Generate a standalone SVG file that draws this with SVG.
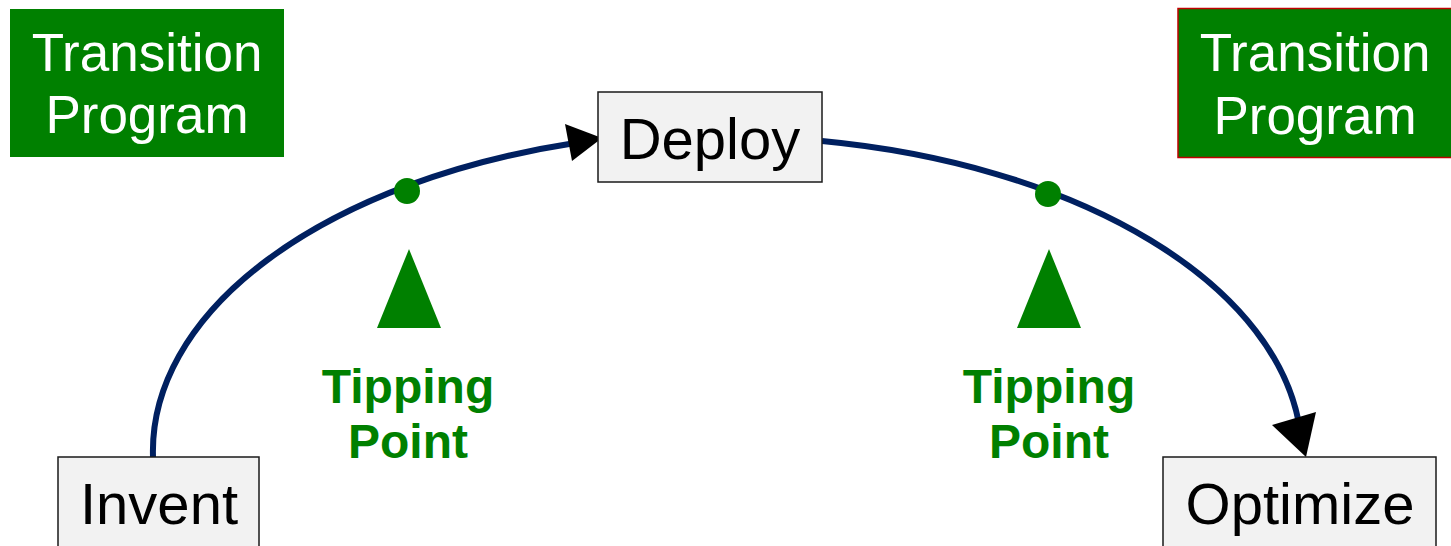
<svg xmlns="http://www.w3.org/2000/svg" width="1451" height="546" viewBox="0 0 1451 546">
<style>
.prog{fill:#008000}
.ptxt{font-family:"Liberation Sans",Arial,sans-serif;font-size:53px;fill:#fff;text-anchor:middle}
.node{fill:#f2f2f2;stroke:#1a1a1a;stroke-width:1.5}
.ntxt{font-family:"Liberation Sans",Arial,sans-serif;font-size:58px;fill:#000;text-anchor:middle}
.tp{font-family:"Liberation Sans",Arial,sans-serif;font-size:48px;font-weight:bold;fill:#008000;text-anchor:middle}
.conn{fill:none;stroke:#002060;stroke-width:6}
.head{fill:#000}
.mark{fill:#008000}
</style>
<rect width="1451" height="546" fill="#fff"/>
<g id="program-left">
<rect class="prog" x="10" y="9" width="274" height="148"/>
<text class="ptxt" x="147" y="71">Transition</text>
<text class="ptxt" x="147" y="133">Program</text>
</g>
<g id="program-right">
<rect class="prog" x="1178" y="8.5" width="276" height="149" stroke="#c00000" stroke-width="1.5"/>
<text class="ptxt" x="1315" y="71">Transition</text>
<text class="ptxt" x="1315" y="134">Program</text>
</g>
<g id="connectors">
<path class="conn" d="M153,457 A577,320 0 0 1 575,143"/>
<polygon class="head" points="602,138 565,124 572,161"/>
<path class="conn" d="M822,141 A577,320 0 0 1 1300,430"/>
<polygon class="head" points="1306,457 1272,425 1316,412"/>
</g>
<g id="deploy">
<rect class="node" x="598" y="92" width="224" height="90"/>
<text class="ntxt" x="710" y="159">Deploy</text>
</g>
<g id="invent">
<rect class="node" x="58" y="457" width="201" height="100"/>
<text class="ntxt" x="159" y="524">Invent</text>
</g>
<g id="optimize">
<rect class="node" x="1163" y="457" width="273" height="100"/>
<text class="ntxt" x="1300" y="524">Optimize</text>
</g>
<g id="tipping-left">
<circle class="mark" cx="407" cy="191" r="13"/>
<polygon class="mark" points="409,249 377,328 441,328"/>
<text class="tp" x="408" y="403">Tipping</text>
<text class="tp" x="408" y="458">Point</text>
</g>
<g id="tipping-right">
<circle class="mark" cx="1048" cy="194" r="13"/>
<polygon class="mark" points="1049,249 1017,328 1081,328"/>
<text class="tp" x="1049" y="403">Tipping</text>
<text class="tp" x="1049" y="458">Point</text>
</g>
</svg>
